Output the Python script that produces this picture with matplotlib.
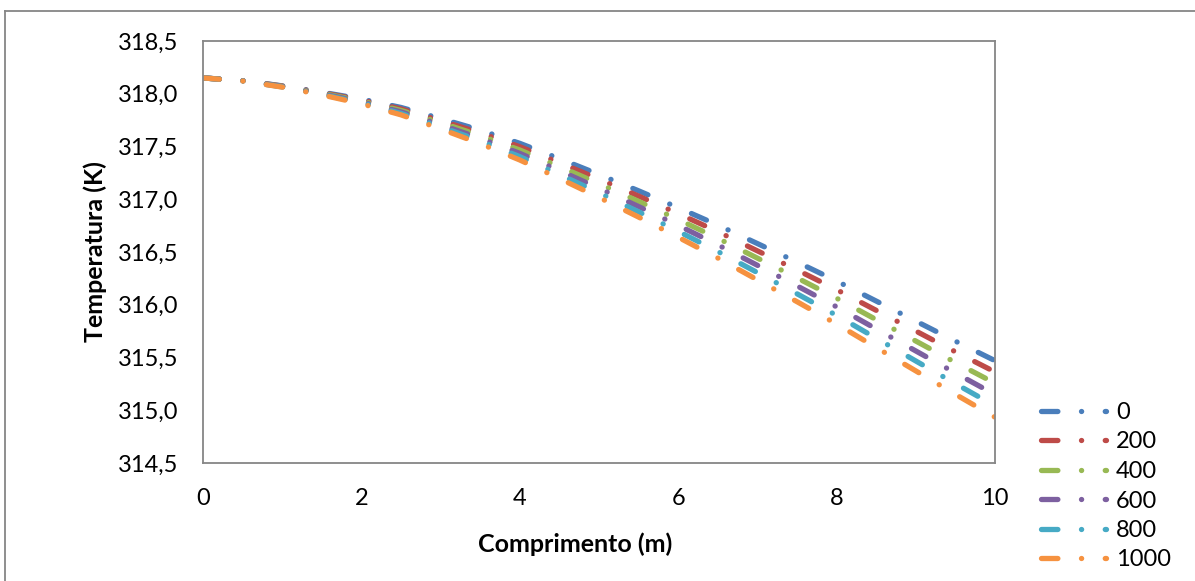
import matplotlib
matplotlib.use("Agg")
import matplotlib.pyplot as plt
from matplotlib.lines import Line2D
from matplotlib.ticker import FuncFormatter, MultipleLocator

# comprimento (m)
x = [0.0, 0.5, 1.0, 1.5, 2.0, 2.5, 3.0, 3.5, 4.0, 4.5, 5.0,
     5.5, 6.0, 6.5, 7.0, 7.5, 8.0, 8.5, 9.0, 9.5, 10.0]

# temperatura (K) para cada serie
t_0 = [318.150, 318.125, 318.075, 318.015, 317.950, 317.870, 317.765, 317.655, 317.530, 317.385, 317.235,
       317.080, 316.920, 316.755, 316.580, 316.405, 316.225, 316.035, 315.845, 315.655, 315.470]
t_200 = [318.150, 318.124, 318.073, 318.010, 317.941, 317.856, 317.745, 317.629, 317.498, 317.347, 317.191,
         317.030, 316.864, 316.693, 316.511, 316.330, 316.143, 315.947, 315.751, 315.554, 315.363]
t_400 = [318.150, 318.123, 318.070, 318.005, 317.932, 317.842, 317.726, 317.604, 317.467, 317.310, 317.148,
         316.980, 316.808, 316.630, 316.442, 316.255, 316.062, 315.859, 315.656, 315.453, 315.256]
t_600 = [318.150, 318.123, 318.068, 317.999, 317.923, 317.828, 317.706, 317.578, 317.435, 317.272, 317.104,
         316.931, 316.752, 316.568, 316.374, 316.179, 315.980, 315.771, 315.562, 315.353, 315.148]
t_800 = [318.150, 318.122, 318.065, 317.994, 317.914, 317.814, 317.687, 317.553, 317.404, 317.235, 317.061,
         316.881, 316.696, 316.505, 316.305, 316.104, 315.899, 315.683, 315.467, 315.252, 315.041]
t_1000 = [318.150, 318.121, 318.063, 317.989, 317.905, 317.800, 317.667, 317.527, 317.372, 317.197, 317.017,
          316.831, 316.640, 316.443, 316.236, 316.029, 315.817, 315.595, 315.373, 315.151, 314.934]

labels = ["0", "200", "400", "600", "800", "1000"]
series = [t_0, t_200, t_400, t_600, t_800, t_1000]
colors = ["#4A7EBB", "#BE4B48", "#98B954", "#7D60A0", "#46AAC5", "#F69240"]

plt.rcParams["font.family"] = ["Lato", "DejaVu Sans"]
plt.rcParams["lines.scale_dashes"] = False

fig = plt.figure(figsize=(11.95, 5.81), dpi=100)
ax = fig.add_axes([203 / 1195, 1 - 463 / 581, 792 / 1195, 422 / 581])

# traco longo - ponto
dash = (0, (11.8, 17.0, 0.1, 17.0))
for t, lab, c in zip(series, labels, colors):
    ax.plot(x, t, color=c, lw=3.8, linestyle=dash,
            dash_capstyle="round", solid_capstyle="round", label=lab)

ax.set_xlim(0, 10)
ax.set_ylim(314.5, 318.5)
ax.xaxis.set_major_locator(MultipleLocator(2))
ax.yaxis.set_major_locator(MultipleLocator(0.5))
ax.yaxis.set_major_formatter(FuncFormatter(lambda v, p: f"{v:.1f}".replace(".", ",")))
ax.tick_params(length=0, labelsize=17, colors="black")
ax.tick_params(axis="y", pad=18)
ax.tick_params(axis="x", pad=18)
for s in ax.spines.values():
    s.set_color("#868686")
    s.set_linewidth(1.3)

ax.set_xlabel("Comprimento (m)", fontsize=18, fontweight="bold")
ax.set_ylabel("Temperatura (K)", fontsize=18, fontweight="bold")
ax.xaxis.set_label_coords(0.47, -0.192)
ax.xaxis.label.set_va("center")
ax.yaxis.set_label_coords(-0.136, 0.5)
ax.yaxis.label.set_va("center")

leg = ax.legend(loc="upper left", bbox_to_anchor=(1041 / 1195, 1 - 402 / 581),
                bbox_transform=fig.transFigure, frameon=False, fontsize=17,
                handlelength=2.75, handletextpad=0.42, labelspacing=0.36,
                borderpad=0, borderaxespad=0)

# moldura externa
fig.add_artist(Line2D([4.5 / 1195, 1.0], [1 - 11 / 581, 1 - 11 / 581],
                      transform=fig.transFigure, color="#868686", lw=1.3))
fig.add_artist(Line2D([4.5 / 1195, 4.5 / 1195], [0.0, 1 - 11 / 581],
                      transform=fig.transFigure, color="#868686", lw=1.3))

fig.savefig("out.png", dpi=100)
